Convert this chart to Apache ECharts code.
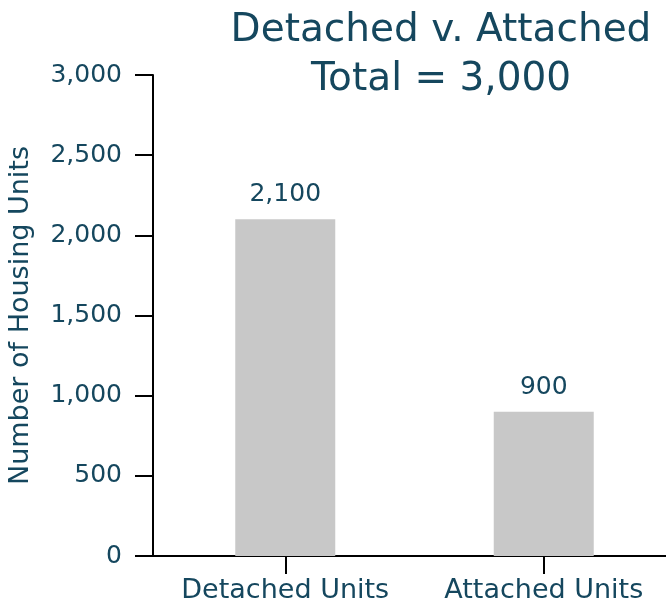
<!DOCTYPE html>
<html>
<head>
<meta charset="utf-8">
<script src="https://cdn.jsdelivr.net/npm/echarts@6/dist/echarts.min.js"></script>
<style>html,body{margin:0;padding:0;background:#fff}#c{width:666px;height:606px}</style>
</head>
<body>
<div id="c"></div>
<script>
const categories = ["Detached Units", "Attached Units"];
const values = [2100, 900];
const yTicks = [0, 500, 1000, 1500, 2000, 2500, 3000];
const titleLines = ["Detached v. Attached", "Total = 3,000"];
const yAxisName = "Number of Housing Units";

const FONT = "DejaVu Sans";
const TXT = "#15475e";
const fmt = v => v.toLocaleString("en-US");
const catIdx = categories.map((c, i) => i);

const chart = echarts.init(document.getElementById("c"), null, {renderer: "canvas"});
chart.setOption({
  animation: false,
  title: {
    text: titleLines.join("\n"),
    left: 436, top: 1, textAlign: "center",
    textStyle: {fontFamily: FONT, fontSize: 39, fontWeight: "normal", color: TXT, lineHeight: 49}
  },
  grid: {left: 153, top: 75, right: 0, bottom: 50, containLabel: false, outerBoundsMode: "none"},
  xAxis: {
    type: "value",
    min: -0.5116, max: 1.4729,
    splitLine: {show: false},
    axisLine: {show: true, onZero: false, lineStyle: {color: "#000", width: 2}},
    axisTick: {show: true, customValues: catIdx, length: 18, lineStyle: {color: "#000", width: 2}},
    axisLabel: {customValues: catIdx, fontFamily: FONT, fontSize: 27, color: TXT, margin: 21,
      formatter: v => categories[Math.round(v)] || ""}
  },
  yAxis: {
    type: "value",
    min: yTicks[0], max: yTicks[yTicks.length - 1], interval: yTicks[1] - yTicks[0],
    name: yAxisName, nameLocation: "middle", nameRotate: 90, nameGap: 119,
    nameTextStyle: {fontFamily: FONT, fontSize: 27, color: TXT},
    axisLine: {show: true, onZero: false, lineStyle: {color: "#000", width: 2}},
    axisTick: {show: true, length: 18, lineStyle: {color: "#000", width: 2}},
    splitLine: {show: false},
    axisLabel: {fontFamily: FONT, fontSize: 25, color: TXT, margin: 31, formatter: v => fmt(v)}
  },
  series: [{
    type: "bar",
    data: catIdx.map(i => [i, values[i]]),
    barWidth: 100,
    itemStyle: {color: "#c8c8c8"},
    label: {show: true, position: "top", distance: 12, fontFamily: FONT, fontSize: 25, color: TXT,
      formatter: p => fmt(p.value[1])}
  }]
});
</script>
</body>
</html>
